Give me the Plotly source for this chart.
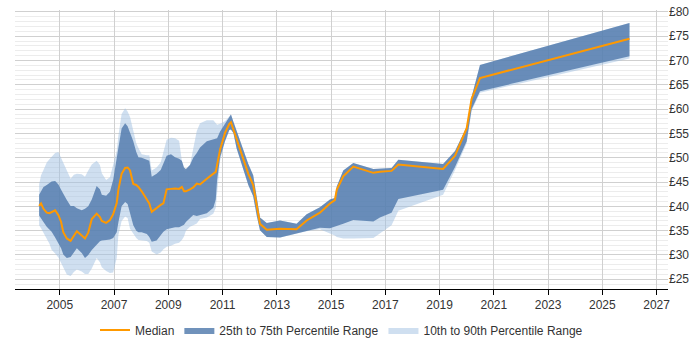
import plotly.graph_objects as go

years = [2004.24, 2004.31, 2004.40, 2004.52, 2004.62, 2004.70, 2004.83, 2004.95, 2005.05, 2005.13,
         2005.26, 2005.40, 2005.52, 2005.63, 2005.81, 2005.93, 2006.05, 2006.18, 2006.36, 2006.48,
         2006.55, 2006.71, 2006.85, 2006.97, 2007.10, 2007.16, 2007.28, 2007.41, 2007.50, 2007.59,
         2007.71, 2007.82, 2007.90, 2008.02, 2008.21, 2008.30, 2008.39, 2008.57, 2008.72, 2008.82,
         2008.94, 2009.10, 2009.25, 2009.40, 2009.50, 2009.58, 2009.65, 2009.80, 2009.92, 2010.05,
         2010.17, 2010.42, 2010.66, 2010.75, 2010.80, 2010.91, 2011.09, 2011.25, 2011.31, 2011.40,
         2011.52, 2011.77, 2011.95, 2012.13, 2012.26, 2012.38, 2012.63, 2013.12, 2013.73, 2014.10,
         2014.59, 2014.96, 2015.14, 2015.21, 2015.45, 2015.82, 2016.56, 2016.80, 2017.23, 2017.48,
         2019.13, 2019.57, 2020.00, 2020.18, 2020.49, 2026.00]

median = [40.1, 40.6, 39.5, 38.7, 38.6, 38.8, 39.2, 38.2, 36.8, 34.7,
          33.4, 32.9, 34.0, 34.9, 34.0, 33.4, 34.6, 37.4, 38.5, 37.8,
          37.0, 36.6, 37.2, 38.4, 40.7, 43.4, 46.7, 47.9, 48.0, 47.4,
          44.6, 44.4, 44.0, 43.1, 41.4, 40.6, 38.9, 39.7, 40.3, 40.6,
          43.5, 43.6, 43.7, 43.6, 44.0, 43.1, 43.1, 43.5, 43.9, 44.7,
          44.5, 45.7, 46.6, 47.1, 48.5, 51.7, 55.1, 57.0, 57.3, 55.8,
          53.4, 49.4, 46.7, 44.4, 40.1, 36.4, 35.2, 35.4, 35.3, 37.1,
          38.7, 40.6, 41.3, 43.4, 46.2, 48.2, 46.9, 47.1, 47.3, 48.6,
          47.7, 50.4, 56.1, 62.1, 66.4, 74.5]

p25 = [38.1, 37.5, 36.8, 35.8, 35.2, 34.8, 33.6, 32.5, 31.4, 30.1,
       29.4, 29.6, 30.5, 31.4, 30.4, 29.4, 30.0, 31.0, 32.1, 32.8,
       33.0, 33.1, 33.2, 33.5, 34.7, 36.7, 40.0, 40.9, 40.5, 38.4,
       36.1, 35.0, 34.7, 34.7, 34.3, 33.7, 32.7, 33.0, 34.0, 34.8,
       35.3, 35.5, 35.7, 35.7, 35.9, 36.2, 36.8, 37.6, 38.2, 38.0,
       38.1, 38.6, 39.7, 41.4, 45.4, 50.1, 53.4, 55.7, 55.8, 55.1,
       51.9, 47.4, 44.4, 42.1, 38.1, 35.1, 33.7, 33.6, 34.4, 34.9,
       35.6, 35.5, 35.8, 36.0, 36.4, 37.2, 36.9, 37.7, 38.7, 41.5,
       43.4, 48.1, 53.4, 60.0, 63.7, 70.9]

p75 = [42.4, 43.0, 44.0, 44.4, 44.9, 45.1, 45.2, 44.5, 43.4, 42.5,
       41.3, 40.1, 40.1, 39.6, 39.2, 39.5, 40.0, 41.4, 44.2, 43.5,
       42.4, 42.2, 43.0, 45.5, 49.4, 52.0, 56.0, 57.1, 56.5, 55.1,
       53.4, 51.2, 50.1, 50.0, 49.7, 49.4, 46.1, 46.7, 47.5, 49.0,
       50.4, 50.7, 50.1, 49.8, 49.4, 48.0, 47.7, 48.5, 50.0, 51.0,
       52.1, 53.4, 53.7, 53.8, 54.0, 55.4, 57.1, 58.5, 58.9, 57.4,
       55.4, 51.4, 48.7, 46.4, 41.5, 37.7, 36.6, 37.1, 36.4, 38.4,
       39.8, 41.4, 41.7, 44.1, 47.4, 48.9, 47.7, 47.8, 47.9, 49.6,
       48.7, 51.4, 56.4, 62.5, 69.1, 77.7]

p10 = [36.1, 35.5, 34.5, 33.4, 32.3, 31.1, 30.3, 29.5, 28.4, 27.4,
       26.0, 25.7, 26.5, 27.0, 26.6, 26.1, 26.1, 27.2, 29.4, 28.5,
       27.5, 26.7, 26.3, 26.4, 29.4, 34.1, 37.0, 37.9, 37.6, 35.4,
       34.4, 33.5, 33.1, 33.0, 32.9, 32.5, 30.7, 30.1, 30.5, 31.2,
       31.7, 31.9, 32.3, 32.5, 33.1, 33.8, 35.0, 35.8, 36.1, 36.5,
       37.4, 37.7, 38.5, 39.7, 42.5, 49.4, 53.4, 55.7, 55.8, 55.1,
       51.9, 47.4, 44.4, 42.1, 38.1, 35.1, 33.7, 33.6, 34.4, 34.9,
       35.3, 34.4, 34.0, 33.7, 33.4, 33.4, 33.5, 34.5, 36.1, 39.1,
       42.4, 47.5, 53.0, 59.6, 63.4, 70.4]

p90 = [44.5, 46.4, 47.5, 49.0, 49.7, 50.2, 51.0, 51.2, 50.0, 49.0,
       47.7, 45.7, 46.5, 46.7, 46.6, 46.1, 47.4, 48.6, 49.4, 48.5,
       46.8, 45.4, 46.0, 48.5, 51.4, 54.5, 59.0, 60.2, 59.5, 58.4,
       55.4, 53.0, 52.0, 50.7, 50.5, 50.5, 47.4, 48.0, 49.0, 51.0,
       53.7, 54.1, 54.0, 53.5, 49.4, 47.5, 47.4, 48.5, 52.0, 55.5,
       57.1, 57.7, 57.7, 57.1, 56.8, 57.0, 57.5, 58.5, 58.9, 57.4,
       55.4, 51.4, 48.7, 46.4, 41.5, 37.7, 36.6, 37.1, 36.4, 38.4,
       39.8, 41.4, 41.7, 44.1, 47.4, 48.9, 47.7, 47.8, 47.9, 49.6,
       48.7, 51.4, 56.4, 62.5, 69.1, 77.7]

x_ticks = list(range(2005, 2028, 2))
y_ticks = list(range(25, 81, 5))
y_labels = ["£%d" % v for v in y_ticks]

fig = go.Figure()

fig.add_trace(go.Scatter(
    x=years + years[::-1], y=p90 + p10[::-1],
    fill="toself", fillcolor="rgba(160,192,225,0.5)",
    line=dict(width=0, color="rgba(0,0,0,0)"), mode="lines",
    name="10th to 90th Percentile Range", hoverinfo="skip",
))
fig.add_trace(go.Scatter(
    x=years + years[::-1], y=p75 + p25[::-1],
    fill="toself", fillcolor="rgba(80,122,172,0.82)",
    line=dict(width=0, color="rgba(0,0,0,0)"), mode="lines",
    name="25th to 75th Percentile Range", hoverinfo="skip",
))
fig.add_trace(go.Scatter(
    x=years, y=median, mode="lines",
    line=dict(color="#ff9900", width=2),
    name="Median",
))

fig.update_layout(
    width=700, height=350,
    margin=dict(l=15, r=32, t=5, b=58),
    paper_bgcolor="white", plot_bgcolor="white",
    font=dict(family="Liberation Sans, Arial, sans-serif", size=12, color="#333"),
    showlegend=True,
    legend=dict(orientation="h", x=0.5, xanchor="center", y=-0.095, yanchor="top",
                traceorder="reversed", font=dict(size=12, color="#333"),
                itemwidth=30),
    xaxis=dict(
        range=[2003.35, 2027.42], tickmode="array", tickvals=x_ticks,
        ticktext=[str(v) for v in x_ticks],
        showgrid=True, gridcolor="#d0d0d0", gridwidth=1,
        showline=True, linecolor="#000", linewidth=1,
        ticks="outside", ticklen=5, tickcolor="#000",
        zeroline=False,
    ),
    yaxis=dict(
        range=[23, 80.4], side="right", tickmode="array", tickvals=y_ticks,
        ticktext=y_labels,
        showgrid=True, gridcolor="#d0d0d0", gridwidth=1,
        minor=dict(dtick=1, showgrid=True, gridcolor="#ececec", gridwidth=1),
        showline=False, zeroline=False, ticks="",
    ),
)

fig.write_html("out.html")
